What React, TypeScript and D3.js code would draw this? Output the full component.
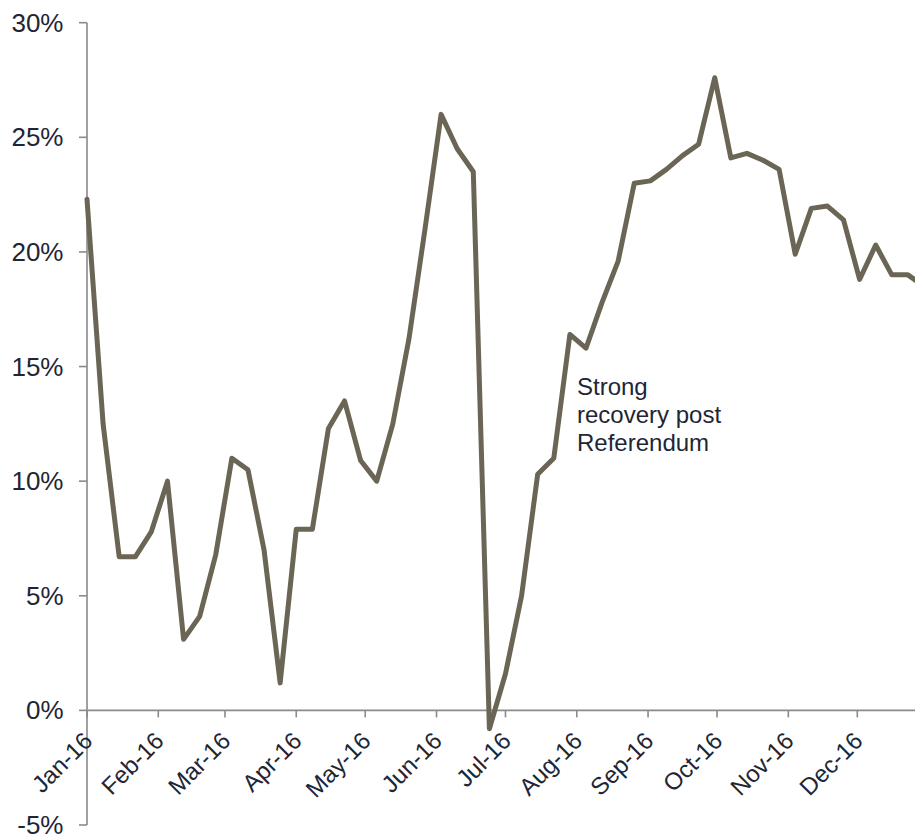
import React from "react";
import * as d3 from "d3";

// Weekly readings, one per Friday starting 1 Jan 2016 (percent)
const weeklyValues: number[] = [
  22.3, 12.5, 6.7, 6.7, 7.8, 10.0, 3.1, 4.1, 6.8, 11.0,
  10.5, 7.0, 1.2, 7.9, 7.9, 12.3, 13.5, 10.9, 10.0, 12.5,
  16.2, 21.0, 26.0, 24.5, 23.5, -0.8, 1.6, 5.0, 10.3, 11.0,
  16.4, 15.8, 17.8, 19.6, 23.0, 23.1, 23.6, 24.2, 24.7, 27.6,
  24.1, 24.3, 24.0, 23.6, 19.9, 21.9, 22.0, 21.4, 18.8, 20.3,
  19.0, 19.0, 18.5,
];

const startDate = new Date(2016, 0, 1);
const weekDates: Date[] = weeklyValues.map((_, i) => d3.timeDay.offset(startDate, i * 7));

const monthTicks: Date[] = d3.range(0, 12).map((m) => new Date(2016, m, 1));
const yTickValues: number[] = [-5, 0, 5, 10, 15, 20, 25, 30];

const annotationLines: string[] = ["Strong", "recovery post", "Referendum"];

const W = 915;
const H = 835;
const FONT = "'Liberation Sans', Arial, Helvetica, sans-serif";
const TEXT = "#1e2636";
const AXIS = "#8a8a8a";
const LINE = "#6b6555";

export default function App() {
  const x = d3
    .scaleTime()
    .domain([new Date(2016, 0, 1), new Date(2016, 11, 1)])
    .range([87, 857.3]);
  const y = d3.scaleLinear().domain([-5, 30]).range([825, 22.7]);

  const line = d3
    .line<number>()
    .x((_, i) => x(weekDates[i]))
    .y((d) => y(d));

  const path = line(weeklyValues) || "";
  const x0 = x(startDate);
  const yZero = y(0);
  const fmtMonth = d3.timeFormat("%b-%y");

  return (
    <svg
      width={W}
      height={H}
      style={{ position: "absolute", left: 0, top: 0, display: "block" }}
      fontFamily={FONT}
    >
      <rect width={W} height={H} fill="#ffffff" />

      {/* value axis */}
      <line x1={x0} x2={x0} y1={y(30)} y2={y(-5)} stroke={AXIS} strokeWidth={1.6} />
      {yTickValues.map((v) => (
        <g key={v}>
          <line x1={x0 - 8} x2={x0} y1={y(v)} y2={y(v)} stroke={AXIS} strokeWidth={1.6} />
          <text
            x={63.5}
            y={y(v)}
            dy="0.35em"
            textAnchor="end"
            fontSize={26}
            fill={TEXT}
          >
            {`${v}%`}
          </text>
        </g>
      ))}

      {/* time axis along zero */}
      <line x1={x0} x2={W + 5} y1={yZero} y2={yZero} stroke={AXIS} strokeWidth={1.6} />
      {monthTicks.map((d) => (
        <g key={d.getTime()}>
          <line x1={x(d)} x2={x(d)} y1={yZero} y2={yZero + 7} stroke={AXIS} strokeWidth={1.6} />
          <text
            transform={`translate(${x(d) + 7},${yZero + 32}) rotate(-45)`}
            textAnchor="end"
            fontSize={24}
            fill={TEXT}
          >
            {fmtMonth(d)}
          </text>
        </g>
      ))}

      {/* series */}
      <path
        d={path}
        fill="none"
        stroke={LINE}
        strokeWidth={5}
        strokeLinejoin="round"
        strokeLinecap="round"
      />

      {/* annotation */}
      <text x={577} y={395} fontSize={24} fill={TEXT}>
        {annotationLines.map((t, i) => (
          <tspan key={t} x={577} dy={i === 0 ? 0 : 28}>
            {t}
          </tspan>
        ))}
      </text>
    </svg>
  );
}
